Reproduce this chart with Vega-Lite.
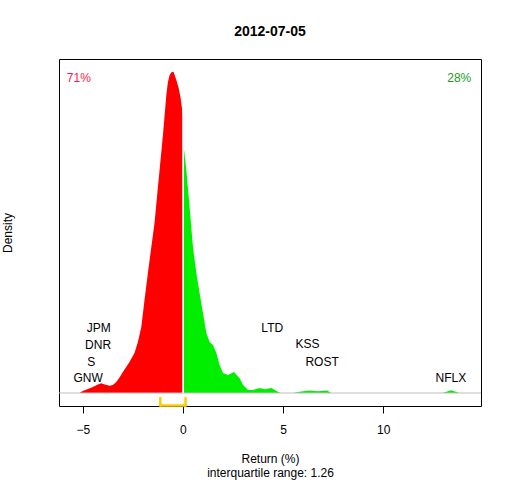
{
  "$schema": "https://vega.github.io/schema/vega-lite/v6.json",
  "width": 422,
  "height": 347,
  "autosize": "none",
  "padding": {"left": 59, "top": 59, "right": 31, "bottom": 74},
  "config": {
    "background": "white",
    "font": "Liberation Sans",
    "view": {"stroke": "black", "strokeWidth": 1}
  },
  "title": {
    "text": "2012-07-05",
    "fontSize": 14,
    "fontWeight": "bold",
    "color": "black",
    "anchor": "middle",
    "offset": 20
  },
  "datasets": {
    "density": [
      {"x": -5.17, "d": 0, "side": "neg"},
      {"x": -5.0, "d": 0.002, "side": "neg"},
      {"x": -4.75, "d": 0.004, "side": "neg"},
      {"x": -4.5, "d": 0.006, "side": "neg"},
      {"x": -4.25, "d": 0.0085, "side": "neg"},
      {"x": -4.08, "d": 0.0097, "side": "neg"},
      {"x": -3.9, "d": 0.0085, "side": "neg"},
      {"x": -3.67, "d": 0.0073, "side": "neg"},
      {"x": -3.5, "d": 0.008, "side": "neg"},
      {"x": -3.33, "d": 0.011, "side": "neg"},
      {"x": -3.15, "d": 0.016, "side": "neg"},
      {"x": -3.0, "d": 0.021, "side": "neg"},
      {"x": -2.67, "d": 0.031, "side": "neg"},
      {"x": -2.42, "d": 0.04, "side": "neg"},
      {"x": -2.25, "d": 0.051, "side": "neg"},
      {"x": -2.08, "d": 0.066, "side": "neg"},
      {"x": -1.92, "d": 0.093, "side": "neg"},
      {"x": -1.75, "d": 0.12, "side": "neg"},
      {"x": -1.58, "d": 0.146, "side": "neg"},
      {"x": -1.42, "d": 0.17, "side": "neg"},
      {"x": -1.25, "d": 0.206, "side": "neg"},
      {"x": -1.08, "d": 0.241, "side": "neg"},
      {"x": -1.0, "d": 0.258, "side": "neg"},
      {"x": -0.915, "d": 0.278, "side": "neg"},
      {"x": -0.83, "d": 0.298, "side": "neg"},
      {"x": -0.75, "d": 0.311, "side": "neg"},
      {"x": -0.665, "d": 0.318, "side": "neg"},
      {"x": -0.56, "d": 0.321, "side": "neg"},
      {"x": -0.47, "d": 0.321, "side": "neg"},
      {"x": -0.415, "d": 0.318, "side": "neg"},
      {"x": -0.33, "d": 0.313, "side": "neg"},
      {"x": -0.215, "d": 0.305, "side": "neg"},
      {"x": -0.115, "d": 0.295, "side": "neg"},
      {"x": -0.05, "d": 0.285, "side": "neg"},
      {"x": -0.015, "d": 0.275, "side": "neg"},
      {"x": 0.04, "d": 0.246, "side": "pos"},
      {"x": 0.17, "d": 0.223, "side": "pos"},
      {"x": 0.33, "d": 0.186, "side": "pos"},
      {"x": 0.5, "d": 0.146, "side": "pos"},
      {"x": 0.67, "d": 0.12, "side": "pos"},
      {"x": 0.83, "d": 0.1, "side": "pos"},
      {"x": 1.0, "d": 0.08, "side": "pos"},
      {"x": 1.17, "d": 0.06, "side": "pos"},
      {"x": 1.33, "d": 0.051, "side": "pos"},
      {"x": 1.5, "d": 0.048, "side": "pos"},
      {"x": 1.67, "d": 0.04, "side": "pos"},
      {"x": 1.83, "d": 0.028, "side": "pos"},
      {"x": 2.0, "d": 0.02, "side": "pos"},
      {"x": 2.25, "d": 0.018, "side": "pos"},
      {"x": 2.55, "d": 0.021, "side": "pos"},
      {"x": 2.83, "d": 0.0147, "side": "pos"},
      {"x": 3.0, "d": 0.008, "side": "pos"},
      {"x": 3.25, "d": 0.003, "side": "pos"},
      {"x": 3.5, "d": 0.003, "side": "pos"},
      {"x": 3.83, "d": 0.005, "side": "pos"},
      {"x": 4.08, "d": 0.0037, "side": "pos"},
      {"x": 4.42, "d": 0.005, "side": "pos"},
      {"x": 4.67, "d": 0.002, "side": "pos"},
      {"x": 4.87, "d": 0, "side": "pos"},
      {"x": 5.5, "d": 0, "side": "pos"},
      {"x": 5.9, "d": 0.0015, "side": "pos"},
      {"x": 6.3, "d": 0.0025, "side": "pos"},
      {"x": 6.75, "d": 0.0018, "side": "pos"},
      {"x": 7.2, "d": 0.0025, "side": "pos"},
      {"x": 7.4, "d": 0, "side": "pos"},
      {"x": 12.95, "d": 0, "side": "pos"},
      {"x": 13.4, "d": 0.0028, "side": "pos"},
      {"x": 13.8, "d": 0, "side": "pos"}
    ],
    "tickers": [
      {"name": "JPM", "x": -4.21, "y": 0.065},
      {"name": "DNR", "x": -4.24, "y": 0.048},
      {"name": "S", "x": -4.58, "y": 0.031},
      {"name": "GNW", "x": -4.74, "y": 0.0153},
      {"name": "LTD", "x": 4.46, "y": 0.065},
      {"name": "KSS", "x": 6.22, "y": 0.0487},
      {"name": "ROST", "x": 6.95, "y": 0.031},
      {"name": "NFLX", "x": 13.38, "y": 0.0153}
    ],
    "shares": [
      {"label": "71%", "x": -5.2, "y": 0.315, "side": "neg"},
      {"label": "28%", "x": 13.8, "y": 0.315, "side": "pos"}
    ],
    "iqr": [
      {"x": -1.13, "x2": 0.13, "y": -0.0125, "y2": -0.0125},
      {"x": -1.13, "x2": -1.13, "y": -0.005, "y2": -0.0125},
      {"x": 0.13, "x2": 0.13, "y": -0.005, "y2": -0.0125}
    ]
  },
  "encoding": {
    "x": {
      "field": "x",
      "type": "quantitative",
      "scale": {"domain": [-6.19, 14.885], "nice": false, "zero": false},
      "axis": {
        "values": [-5, 0, 5, 10],
        "grid": false,
        "domain": false,
        "tickColor": "black",
        "tickSize": 7,
        "labelFontSize": 12,
        "labelColor": "black",
        "labelPadding": 11,
        "title": ["Return (%)", "interquartile range: 1.26"],
        "titleFontSize": 12,
        "titleFontWeight": "normal",
        "titleColor": "black",
        "titleLineHeight": 14,
        "titlePadding": 18
      }
    },
    "y": {
      "field": "d",
      "type": "quantitative",
      "scale": {"domain": [-0.013, 0.334], "nice": false, "zero": false},
      "axis": {
        "grid": false,
        "domain": false,
        "ticks": false,
        "labels": false,
        "title": "Density",
        "titleFontSize": 12,
        "titleFontWeight": "normal",
        "titleColor": "black",
        "titlePadding": 45
      }
    }
  },
  "layer": [
    {
      "data": {"name": "density"},
      "mark": {"type": "area", "interpolate": "linear"},
      "encoding": {
        "y": {"field": "d", "type": "quantitative", "stack": null},
        "y2": {"datum": 0},
        "color": {
          "field": "side",
          "type": "nominal",
          "scale": {"domain": ["neg", "pos"], "range": ["#FF0000", "#00EE00"]},
          "legend": null
        }
      }
    },
    {
      "data": {"values": [{"d": 0}]},
      "mark": {"type": "rule", "color": "#BEBEBE", "strokeWidth": 1},
      "encoding": {"x": null}
    },
    {
      "data": {"values": [{"x": 0, "d": 0, "d2": 0.29}]},
      "mark": {"type": "rule", "color": "white", "strokeWidth": 1.2},
      "encoding": {"y2": {"field": "d2"}}
    },
    {
      "data": {"name": "tickers"},
      "mark": {"type": "text", "fontSize": 12, "color": "black", "align": "center", "baseline": "middle"},
      "encoding": {
        "y": {"field": "y", "type": "quantitative"},
        "text": {"field": "name"}
      }
    },
    {
      "data": {"name": "shares"},
      "mark": {"type": "text", "fontSize": 12, "align": "center", "baseline": "middle"},
      "encoding": {
        "y": {"field": "y", "type": "quantitative"},
        "text": {"field": "label"},
        "color": {
          "field": "side",
          "type": "nominal",
          "scale": {"domain": ["neg", "pos"], "range": ["#FF1A3C", "#1E9A1E"]},
          "legend": null
        }
      }
    },
    {
      "data": {"name": "iqr"},
      "mark": {"type": "rule", "color": "#FFCC00", "strokeWidth": 2.5, "strokeCap": "round"},
      "encoding": {
        "x2": {"field": "x2"},
        "y": {"field": "y", "type": "quantitative"},
        "y2": {"field": "y2"}
      }
    }
  ],
  "resolve": {"scale": {"color": "independent"}}
}
